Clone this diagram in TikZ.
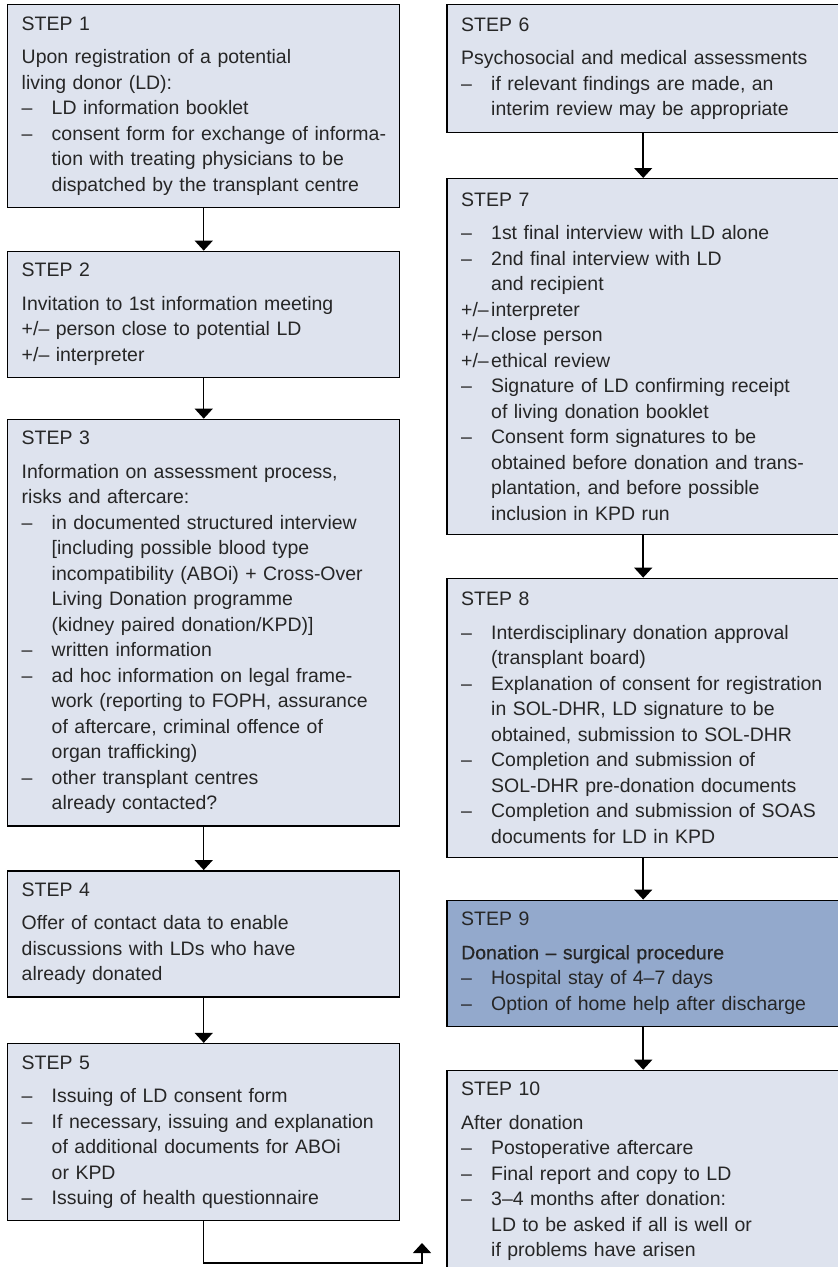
\documentclass[tikz,border=0pt]{standalone}
\usepackage{fontspec}
\setmainfont{Liberation Sans}
\newfontfamily\medfont[FakeBold=0.5]{Liberation Sans}
\usetikzlibrary{arrows.meta,positioning}

\definecolor{stepfill}{RGB}{222,227,238}
\definecolor{donfill}{RGB}{147,169,204}

\newcommand\dsh{\makebox[22.5pt][l]{–}}
\newcommand\indt{\hspace*{22.5pt}}
\newcommand\pmk{\makebox[22.5pt][l]{+/–}}

\begin{document}
\begin{tikzpicture}[x=0.75pt,y=0.75pt,
  stepbox/.style={rectangle,draw=black,line width=1.1pt,fill=stepfill,
    anchor=north west,inner xsep=4pt,text width=286pt,align=left,
    text=black!85,font=\fontsize{14.6pt}{19.125pt}\selectfont,
    execute at begin node={\leftskip=6.5pt},
    minimum height=94.5pt+(#1-3)*19.125pt},
  flow/.style={line width=1.1pt,-{Triangle[width=13.5pt,length=7.5pt]}},
  node distance=32pt]

  \clip (0,0) rectangle (838,-1267);

  % left column
  \node[stepbox=6] (s1) at (7,-4) {STEP 1\\[6pt]
    Upon registration of a potential\\
    living donor (LD):\\
    \dsh LD information booklet\\
    \dsh consent form for exchange of informa-\\
    \indt tion with treating physicians to be\\
    \indt dispatched by the transplant centre};
  \node[stepbox=3,below=of s1] (s2) {STEP 2\\[6pt]
    Invitation to 1st information meeting\\
    +/– person close to potential LD\\
    +/– interpreter};
  \node[stepbox=14,below=30.4pt of s2] (s3) {STEP 3\\[6pt]
    Information on assessment process,\\
    risks and aftercare:\\
    \dsh in documented structured interview\\
    \indt [including possible blood type\\
    \indt incompatibility (ABOi) + Cross-Over\\
    \indt Living Donation programme\\
    \indt (kidney paired donation/KPD)]\\
    \dsh written information\\
    \dsh ad hoc information on legal frame-\\
    \indt work (reporting to FOPH, assurance\\
    \indt of aftercare, criminal offence of\\
    \indt organ trafficking)\\
    \dsh other transplant centres\\
    \indt already contacted?};
  \node[stepbox=3,below=32.6pt of s3] (s4) {STEP 4\\[6pt]
    Offer of contact data to enable\\
    discussions with LDs who have\\
    already donated};
  \node[stepbox=5,below=34pt of s4] (s5) {STEP 5\\[6pt]
    \dsh Issuing of LD consent form\\
    \dsh If necessary, issuing and explanation\\
    \indt of additional documents for ABOi\\
    \indt or KPD\\
    \dsh Issuing of health questionnaire};

  % right column
  \node[stepbox=3,minimum height=96pt,right=34.5pt of s1.north east,anchor=north west] (s6) {STEP 6\\[6pt]
    Psychosocial and medical assessments\\
    \dsh if relevant findings are made, an\\
    \indt interim review may be appropriate};
  \node[stepbox=12,below=33.4pt of s6] (s7) {STEP 7\\[6pt]
    \dsh 1st final interview with LD alone\\
    \dsh 2nd final interview with LD\\
    \indt and recipient\\
    \pmk interpreter\\
    \pmk close person\\
    \pmk ethical review\\
    \dsh Signature of LD confirming receipt\\
    \indt of living donation booklet\\
    \dsh Consent form signatures to be\\
    \indt obtained before donation and trans-\\
    \indt plantation, and before possible\\
    \indt inclusion in KPD run};
  \node[stepbox=9,below=of s7] (s8) {STEP 8\\[6pt]
    \dsh Interdisciplinary donation approval\\
    \indt (transplant board)\\
    \dsh Explanation of consent for registration\\
    \indt in SOL-DHR, LD signature to be\\
    \indt obtained, submission to SOL-DHR\\
    \dsh Completion and submission of\\
    \indt SOL-DHR pre-donation documents\\
    \dsh Completion and submission of SOAS\\
    \indt documents for LD in KPD};
  \node[stepbox=3,fill=donfill,below=31.1pt of s8] (s9) {STEP 9\\[6pt]
    {\medfont Donation – surgical procedure}\\
    \dsh Hospital stay of 4–7 days\\
    \dsh Option of home help after discharge};
  \node[stepbox=6,below=of s9] (s10) {STEP 10\\[6pt]
    After donation\\
    \dsh Postoperative aftercare\\
    \dsh Final report and copy to LD\\
    \dsh 3–4 months after donation:\\
    \indt LD to be asked if all is well or\\
    \indt if problems have arisen};

  % connectors
  \draw[flow] (s1) -- (s2);
  \draw[flow] (s2) -- (s3);
  \draw[flow] (s3) -- (s4);
  \draw[flow] (s4) -- (s5);
  \draw[flow] (s6) -- (s7);
  \draw[flow] (s7) -- (s8);
  \draw[flow] (s8) -- (s9);
  \draw[flow] (s9) -- (s10);

  \coordinate (loopturn) at (422,-1263);
  \coordinate (loopend) at (422,-1243);
  \draw[flow] (s5.south) |- (loopturn) -- (loopend);
\end{tikzpicture}
\end{document}
